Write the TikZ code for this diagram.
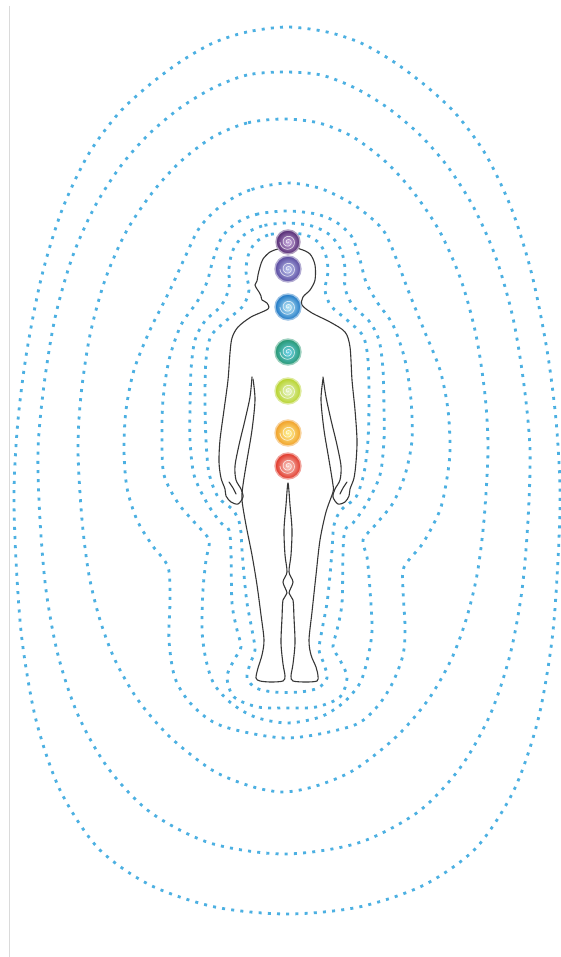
\documentclass[tikz,border=0pt]{standalone}
\usetikzlibrary{positioning}

\definecolor{aurablue}{RGB}{76,176,226}
\definecolor{bodyline}{RGB}{55,55,55}
\definecolor{edgegray}{RGB}{218,218,218}
\definecolor{crownviolet}{RGB}{82,40,112}
\definecolor{crownlight}{RGB}{205,175,228}
\definecolor{browindigo}{RGB}{88,72,158}
\definecolor{browlight}{RGB}{190,200,242}
\definecolor{throatblue}{RGB}{28,118,196}
\definecolor{throatlight}{RGB}{195,238,250}
\definecolor{heartgreen}{RGB}{38,150,112}
\definecolor{heartlight}{RGB}{110,212,236}
\definecolor{solarlime}{RGB}{182,210,40}
\definecolor{solarlight}{RGB}{232,246,205}
\definecolor{sacralorange}{RGB}{240,158,38}
\definecolor{sacrallight}{RGB}{255,244,150}
\definecolor{rootred}{RGB}{224,52,38}
\definecolor{rootlight}{RGB}{250,212,204}

\tikzset{
  aura/.style={draw=aurablue, line width=2.8pt, dash pattern=on 3pt off 6.2pt},
  figure/.style={draw=bodyline, line width=1.1pt, line join=round, line cap=round},
  chakra/.style 2 args={circle, minimum size=26pt, inner sep=0pt,
    inner color=#2, outer color=#1, draw=#1!45, line width=1.4pt,
    path picture={
      \draw[white, line width=0.7pt, opacity=0.75, shift={(path picture bounding box.center)}]
        plot[domain=0:900, samples=90, smooth] ({\x/900*8*cos(\x)}, {\x/900*8*sin(\x)});
    }}
}

\begin{document}
\begin{tikzpicture}[x=1pt, y=-1pt]

  \useasboundingbox (0,0) rectangle (561,957);
  \fill[white] (0,0) rectangle (561,957);
  \draw[edgegray, line width=1.2pt] (9.5,6) -- (9.5,957);

  % aura rings, outermost first
  \draw[aura] plot[smooth cycle] coordinates {
    (287,27) (247,32) (213,43) (180,62) (148,86) (118,114) (88,155) (62,210) (42,275) (27,350)
    (18,420) (14,490) (16,560) (22,640) (36,720) (60,790) (98,848) (150,885) (215,907) (287,914)
    (359,907) (424,885) (476,848) (514,790) (538,720) (552,640) (558,560) (560,490) (556,420)
    (547,350) (532,275) (512,210) (486,155) (456,114) (426,86) (394,62) (361,43) (327,32)};

  \draw[aura] plot[smooth cycle] coordinates {
    (284,72) (247,75) (213,88) (180,108) (148,135) (120,167) (94,208) (72,258) (55,318) (44,385)
    (38,450) (40,520) (46,590) (58,655) (78,715) (108,768) (150,812) (210,843) (284,854)
    (358,843) (418,812) (460,768) (490,715) (510,655) (522,590) (528,520) (530,450) (524,385)
    (513,318) (496,258) (474,208) (448,167) (420,135) (388,108) (355,88) (321,75)};

  \draw[aura] plot[smooth cycle] coordinates {
    (283,119) (247,123) (213,137) (180,162) (152,193) (126,232) (105,280) (90,335) (81,395)
    (78,450) (82,520) (89,575) (100,620) (115,660) (138,700) (170,737) (212,770) (250,786) (283,792)
    (316,786) (354,770) (396,737) (428,700) (451,660) (466,620) (477,575) (484,520) (488,450)
    (485,395) (476,335) (461,280) (440,232) (414,193) (386,162) (353,137) (319,123)};

  \draw[aura] plot[smooth cycle] coordinates {
    (287,183) (250,190) (222,205) (200,227) (186,255) (170,290) (150,330) (134,370) (126,410)
    (124,450) (127,488) (137,520) (152,545) (168,567) (170,600) (169,640) (175,678) (192,705)
    (222,726) (287,738) (352,726) (376,708) (392,684) (403,655) (405,627) (403,590) (404,567)
    (423,543) (440,510) (447,478) (450,450) (448,410) (440,370) (424,330) (408,290) (396,258)
    (383,230) (357,207) (322,189)};

  \draw[aura] plot[smooth cycle] coordinates {
    (287,211) (258,214) (238,222) (222,237) (213,260) (207,282) (197,302) (181,325) (169,360)
    (163,400) (162,440) (164,475) (178,503) (195,523) (209,540) (206,560) (203,590) (202,630)
    (206,660) (214,684) (231,703) (255,717) (287,723) (320,717) (343,703) (360,683) (368,657)
    (372,630) (370,590) (367,557) (363,540) (377,523) (393,503) (405,475) (412,440) (411,400)
    (405,360) (393,325) (377,302) (366,282) (360,260) (352,237) (336,222) (316,214)};

  \draw[aura] plot[smooth cycle] coordinates {
    (287,223) (262,226) (244,235) (233,250) (229,268) (229,288) (221,306) (205,321) (195,340)
    (191,370) (190,410) (190,440) (194,475) (207,503) (221,523) (229,530) (231,553) (232,603)
    (237,630) (241,647) (234,660) (227,677) (234,697) (258,707) (287,708) (316,707) (340,697)
    (347,677) (340,660) (333,647) (337,630) (342,603) (343,553) (345,530) (353,523) (367,503)
    (380,475) (384,440) (384,410) (383,370) (379,340) (369,321) (353,306) (345,288) (345,268)
    (341,250) (330,235) (312,226)};

  \draw[aura] plot[smooth cycle] coordinates {
    (287,233) (268,235) (255,243) (248,256) (246,272) (249,290) (243,306) (227,320) (211,336)
    (206,360) (205,400) (206,440) (209,473) (218,497) (233,510) (240,525) (242,550) (244,575)
    (247,603) (252,630) (255,650) (250,664) (247,678) (256,688) (274,692) (300,692) (318,688)
    (327,678) (324,664) (319,650) (322,630) (327,603) (330,575) (332,550) (334,525) (341,510)
    (356,497) (364,473) (368,440) (369,400) (368,360) (363,336) (347,320) (331,306) (325,290)
    (328,272) (326,256) (319,243) (306,235)};

  % figure: arms, shoulders and head
  \draw[figure] plot[smooth, tension=0.5] coordinates {
    (252,377) (250,397) (245,420) (239,445) (235,466) (236,480) (241,489) (243,497) (238,504)
    (231,502) (226,496) (225,489) (221,478) (219,462) (220,440) (224,410) (228,380) (230,353)
    (232,338) (238,327) (251,317) (268,309) (267,303) (262,300) (261,296) (259,292) (257,289)
    (255,285) (257,281) (258,275) (260,267) (263,259) (270,252) (278,249) (288,247) (300,249)
    (310,254) (315,265) (315,280) (310,290) (303,297) (302,305) (312,313) (330,322) (345,332)
    (350,347) (352,380) (355,410) (357,440) (356,462) (354,478) (350,489) (349,496) (345,502)
    (338,504) (333,497) (335,489) (340,480) (341,466) (337,445) (331,420) (326,397) (323,377)};
  \draw[figure] plot[smooth, tension=0.6] coordinates {(229,482) (233,488) (236,494)};
  \draw[figure] plot[smooth, tension=0.6] coordinates {(347,482) (343,488) (340,494)};

  % figure: torso and legs
  \draw[figure] plot[smooth, tension=0.5] coordinates {
    (253,379) (255,400) (252,430) (247,460) (243,485) (242,500) (246,525) (252,555) (257,585)
    (261,615) (264,640) (262,655) (258,668) (256,678) (260,681) (271,682) (283,681) (285,676)
    (283,664) (281,643) (282,618) (283,600) (287,593) (283,582) (287,572) (285,555) (284,530)
    (286,505) (288,483) (290,505) (292,530) (291,555) (289,572) (293,582) (289,593) (293,600)
    (294,618) (295,643) (293,664) (291,676) (293,681) (306,682) (317,681) (318,676) (316,667)
    (311,655) (309,640) (312,612) (316,575) (320,540) (326,512) (333,492) (333,485) (329,460)
    (324,430) (321,400) (323,379)};

  % chakras
  \node[chakra={rootred}{rootlight}] (root) at (288,466) {};
  \node[chakra={sacralorange}{sacrallight}] (sacral) at (288,433) {};
  \node[chakra={solarlime}{solarlight}] (solar) at (288,391) {};
  \node[chakra={heartgreen}{heartlight}] (heart) at (288,352) {};
  \node[chakra={throatblue}{throatlight}] (throat) at (288,307) {};
  \node[chakra={browindigo}{browlight}] (thirdeye) at (288,269) {};
  \node[chakra={crownviolet}{crownlight}, minimum size=24pt] (crown) at (288,242) {};

\end{tikzpicture}
\end{document}
